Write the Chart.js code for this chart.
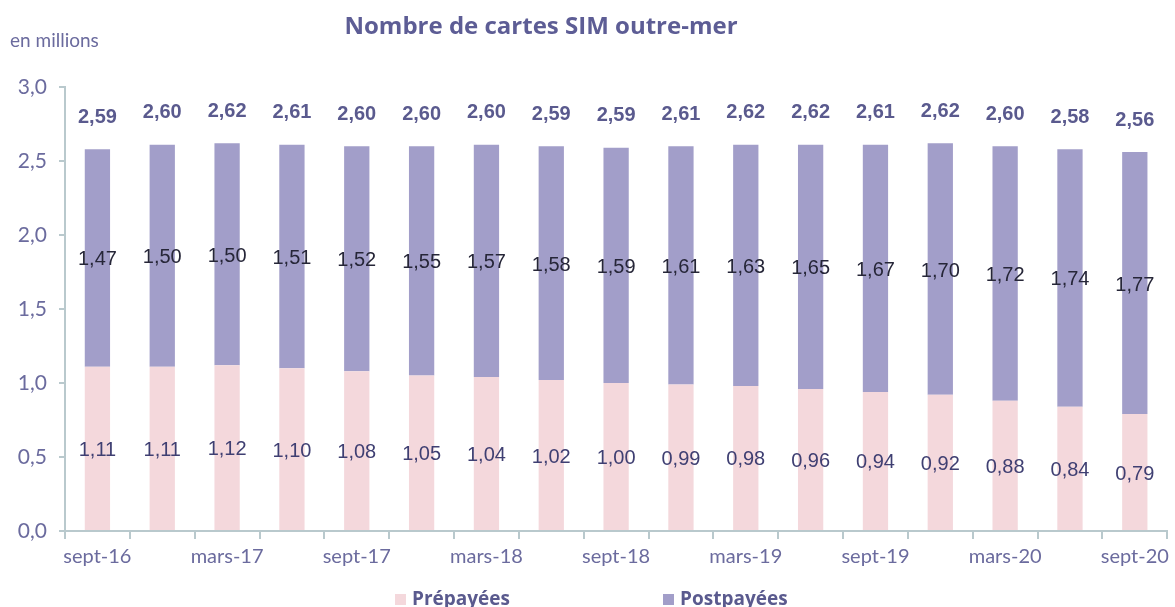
<!DOCTYPE html>
<html>
<head>
<meta charset="utf-8">
<script src="https://cdn.jsdelivr.net/npm/chart.js@4.4.0/dist/chart.umd.min.js"></script>
<style>
    html, body { margin: 0; padding: 0; background: #ffffff; }
    #wrap { width: 1175px; height: 607px; }
</style>
</head>
<body>
<div id="wrap"><canvas id="simChart" width="1175" height="607"></canvas></div>
<script>
// Données (en millions)
const categories = ['sept-16', 'déc-16', 'mars-17', 'juin-17', 'sept-17', 'déc-17', 'mars-18', 'juin-18', 'sept-18',
    'déc-18', 'mars-19', 'juin-19', 'sept-19', 'déc-19', 'mars-20', 'juin-20', 'sept-20'];
const prepayees = [1.11, 1.11, 1.12, 1.10, 1.08, 1.05, 1.04, 1.02, 1.00, 0.99, 0.98, 0.96, 0.94, 0.92, 0.88, 0.84, 0.79];
const postpayees = [1.47, 1.50, 1.50, 1.51, 1.52, 1.55, 1.57, 1.58, 1.59, 1.61, 1.63, 1.65, 1.67, 1.70, 1.72, 1.74, 1.77];
const totals = [2.59, 2.60, 2.62, 2.61, 2.60, 2.60, 2.60, 2.59, 2.59, 2.61, 2.62, 2.62, 2.61, 2.62, 2.60, 2.58, 2.56];
const yTicks = [0, 0.5, 1.0, 1.5, 2.0, 2.5, 3.0];

const PINK = '#f4d8dc';
const PURPLE = '#a29ec9';
const AXIS = '#b9c9cd';
const TEXT = '#6b6b9e';
const DARK = '#5a5a8e';

function fmt(v, d) {
    return v.toFixed(d).replace('.', ',');
}

// Titre, étiquettes et légende dessinés à la main
const decorations = {
    id: 'decorations',
    afterDatasetsDraw(chart) {
        const ctx = chart.ctx;
        ctx.save();
        ctx.textAlign = 'center';
        ctx.textBaseline = 'middle';

        // valeurs dans les segments
        const metaPre = chart.getDatasetMeta(0);
        const metaPost = chart.getDatasetMeta(1);
        ctx.font = '20px "Liberation Sans", Arial, sans-serif';
        metaPre.data.forEach((bar, i) => {
            ctx.fillStyle = '#3f3f72';
            ctx.fillText(fmt(prepayees[i], 2), bar.x, (bar.y + bar.base) / 2 + 2);
        });
        metaPost.data.forEach((bar, i) => {
            ctx.fillStyle = '#262638';
            ctx.fillText(fmt(postpayees[i], 2), bar.x, (bar.y + bar.base) / 2 + 2);
        });

        // totaux au-dessus des barres
        ctx.font = 'bold 20px "Liberation Sans", Arial, sans-serif';
        ctx.fillStyle = DARK;
        metaPost.data.forEach((bar, i) => {
            ctx.fillText(fmt(totals[i], 2), bar.x, bar.y - 32);
        });

        // titre
        ctx.font = 'bold 24px "Open Sans", sans-serif';
        ctx.fillStyle = '#5d5d95';
        ctx.fillText('Nombre de cartes SIM outre-mer', 541, 27);

        // unité
        ctx.textAlign = 'left';
        ctx.font = '19px Lato, sans-serif';
        ctx.fillStyle = TEXT;
        ctx.fillText('en millions', 10, 41);

        // légende
        const items = [
            { label: 'Prépayées', color: PINK, x: 395 },
            { label: 'Postpayées', color: PURPLE, x: 663 }
        ];
        ctx.font = 'bold 19px "Open Sans", sans-serif';
        items.forEach(it => {
            ctx.fillStyle = it.color;
            ctx.fillRect(it.x, 594, 11, 11);
            ctx.fillStyle = DARK;
            ctx.fillText(it.label, it.x + 17, 600);
        });
        ctx.restore();
    }
};

const chart = new Chart(document.getElementById('simChart').getContext('2d'), {
    type: 'bar',
    data: {
        labels: categories,
        datasets: [
            {
                label: 'Prépayées',
                data: prepayees,
                backgroundColor: PINK,
                borderWidth: 0,
                barPercentage: 0.39,
                categoryPercentage: 1
            },
            {
                label: 'Postpayées',
                data: postpayees,
                backgroundColor: PURPLE,
                borderWidth: 0,
                barPercentage: 0.39,
                categoryPercentage: 1
            }
        ]
    },
    options: {
        responsive: false,
        animation: false,
        layout: { padding: { top: 87, bottom: 26, right: 5, left: 0 } },
        plugins: {
            legend: { display: false },
            title: { display: false },
            tooltip: { enabled: false }
        },
        scales: {
            x: {
                stacked: true,
                border: { color: AXIS, width: 2 },
                grid: {
                    display: true,
                    drawOnChartArea: false,
                    drawTicks: true,
                    tickLength: 8,
                    color: AXIS,
                    lineWidth: 2
                },
                ticks: {
                    autoSkip: false,
                    maxRotation: 0,
                    color: TEXT,
                    font: { family: 'Lato', size: 20 },
                    padding: 6,
                    callback: (v, i) => (i % 2 === 0 ? categories[i] : '')
                },
                afterFit: (axis) => { axis.height = 50; }
            },
            y: {
                stacked: true,
                min: 0,
                max: 3,
                border: { color: AXIS, width: 2 },
                grid: {
                    display: true,
                    drawOnChartArea: false,
                    drawTicks: true,
                    tickLength: 6,
                    color: AXIS,
                    lineWidth: 2
                },
                afterBuildTicks: (axis) => { axis.ticks = yTicks.map(v => ({ value: v })); },
                ticks: {
                    color: TEXT,
                    font: { family: 'Lato', size: 21 },
                    padding: 12,
                    callback: (v) => fmt(v, 1)
                },
                afterFit: (axis) => { axis.width = 65; }
            }
        }
    },
    plugins: [decorations]
});
</script>
</body>
</html>
